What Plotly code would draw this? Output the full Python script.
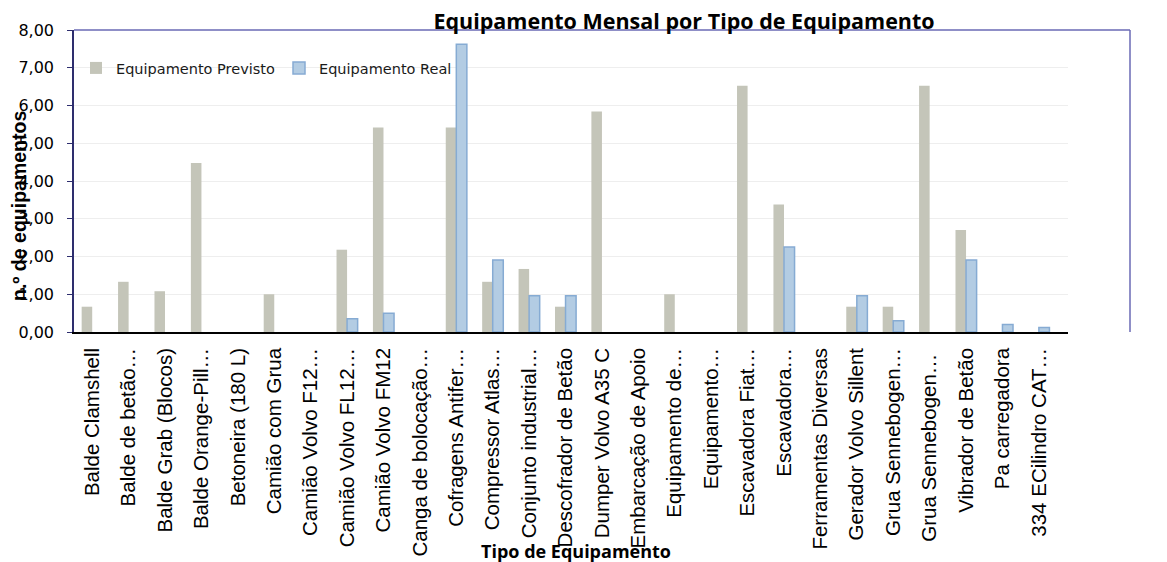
import plotly.graph_objects as go

categories = [
    "Balde Clamshell", "Balde de betão…", "Balde Grab (Blocos)", "Balde Orange-Pill…",
    "Betoneira (180 L)", "Camião com Grua", "Camião Volvo F12…", "Camião Volvo FL12…",
    "Camião Volvo FM12", "Canga de bolocação…", "Cofragens Antifer…", "Compressor Atlas…",
    "Conjunto industrial…", "Descofrador de Betão", "Dumper Volvo A35 C", "Embarcação de Apoio",
    "Equipamento de…", "Equipamento…", "Escavadora Fiat…", "Escavadora…",
    "Ferramentas Diversas", "Gerador Volvo Sillent", "Grua Sennebogen…", "Grua Sennebogen… ",
    "Vibrador de Betão", "Pa carregadora", "334 ECilindro CAT…",
]
previsto = [0.67, 1.33, 1.08, 4.48, 0, 1.0, 0, 2.18, 5.42, 0, 5.42, 1.33, 1.67, 0.67,
            5.84, 0, 1.0, 0, 6.52, 3.38, 0, 0.67, 0.67, 6.52, 2.70, 0, 0]
real = [0, 0, 0, 0, 0, 0, 0, 0.35, 0.50, 0, 7.62, 1.91, 0.96, 0.96,
        0, 0, 0, 0, 0, 2.25, 0, 0.96, 0.30, 0, 1.91, 0.20, 0.12]
y_ticks = [0, 1, 2, 3, 4, 5, 6, 7, 8]

# zero values are not drawn in the reference
prev_plot = [v if v else None for v in previsto]
real_plot = [v if v else None for v in real]

fig = go.Figure()
fig.add_trace(go.Bar(x=categories, y=prev_plot, name="Equipamento Previsto",
                     marker=dict(color="#C4C5B9", line=dict(width=0))))
fig.add_trace(go.Bar(x=categories, y=real_plot, name="Equipamento Real",
                     marker=dict(color="#B3CCE3", line=dict(color="#86ABD3", width=1.5))))

OFF = 8  # page body margin
W, H = 1167 - OFF, 562 - OFF
# plot area in screen pixels
SL, SR, ST, SB = 74, 1068, 30, 332
L, R, T, B = SL - OFF, SR - OFF, ST - OFF, SB - OFF


def px(xs):
    return (xs - SL) / (SR - SL)


def py(ys):
    return (SB - ys) / (SB - ST)


fig.update_layout(
    width=W, height=H,
    margin=dict(l=L, r=W - R, t=T, b=H - B),
    paper_bgcolor="white", plot_bgcolor="white",
    separators=",.",
    barmode="group", bargap=0.42, bargroupgap=0.0,
    showlegend=True,
    legend=dict(orientation="h", x=px(76), y=py(68), xanchor="left", yanchor="middle",
                font=dict(family="DejaVu Sans", size=14.5, color="#1a1a1a"),
                bgcolor="rgba(0,0,0,0)", itemwidth=30, tracegroupgap=0,
                entrywidth=158, entrywidthmode="pixels"),
    title=dict(text="<b>Equipamento Mensal por Tipo de Equipamento</b>",
               x=(684 - OFF) / W, xanchor="center", y=1 - (21 - OFF) / H, yanchor="middle",
               font=dict(family="Open Sans", size=21.5, color="black")),
    xaxis=dict(range=[-0.5, 26.8], tickangle=-90,
               tickfont=dict(family="Liberation Sans", size=20.5, color="black"),
               showline=True, linecolor="black", linewidth=1.5, ticks="", showgrid=False,
               ticklabelstandoff=6, automargin=False),
    yaxis=dict(range=[0, 8], tickvals=y_ticks, tickformat=".2f",
               tickfont=dict(family="DejaVu Sans", size=16, color="black"),
               showline=True, linecolor="#2E2E6E", linewidth=1.5,
               ticks="outside", ticklen=5, tickcolor="#2E2E6E", ticklabelstandoff=10,
               showgrid=True, gridcolor="#EEEEEE", gridwidth=1, zeroline=False,
               automargin=False),
    shapes=[
        dict(type="line", xref="paper", yref="paper", x0=0, x1=px(1130), y0=1, y1=1,
             line=dict(color="#6A6AB4", width=1.5)),
        dict(type="line", xref="paper", yref="paper", x0=px(1130), x1=px(1130),
             y0=0, y1=1, line=dict(color="#6A6AB4", width=1.5)),
    ],
    annotations=[
        dict(text="<b>n.º de equipamentos</b>", xref="paper", yref="paper",
             x=px(19), y=py(206), textangle=-90, showarrow=False,
             xanchor="center", yanchor="middle",
             font=dict(family="Liberation Sans", size=19.5, color="black")),
        dict(text="<b>Tipo de Equipamento</b>", xref="paper", yref="paper",
             x=px(576), y=py(551), showarrow=False,
             xanchor="center", yanchor="middle",
             font=dict(family="Open Sans", size=18, color="black")),
    ],
)

fig.write_html("out.html")
